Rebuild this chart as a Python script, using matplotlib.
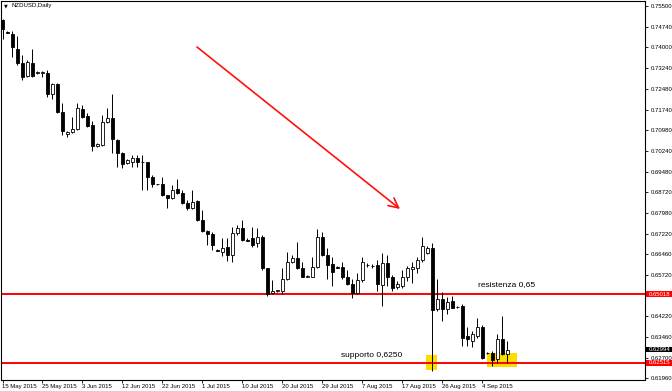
import matplotlib
matplotlib.use('Agg')
import matplotlib.pyplot as plt
from matplotlib.patches import Rectangle
import matplotlib.transforms as mtransforms

plt.rcParams['font.family'] = ['Liberation Sans', 'DejaVu Sans']

# ---------------- data (NZDUSD daily) ----------------
open_ = [0.74988, 0.74549, 0.74475, 0.73963, 0.73451, 0.72975, 0.73451, 0.73085, 0.73085, 0.73085,
         0.72317, 0.72682, 0.71658, 0.70853, 0.70926, 0.71036, 0.71768, 0.71512, 0.71182, 0.70414,
         0.70450, 0.71292, 0.71438, 0.70633, 0.70158, 0.69792, 0.69828, 0.69975, 0.69828, 0.69828,
         0.69280, 0.69023, 0.69023, 0.68621, 0.68511, 0.68841, 0.68694, 0.68328, 0.68145, 0.68401,
         0.67706, 0.67304, 0.67194, 0.66620, 0.66535, 0.66718, 0.66426, 0.67231, 0.67414, 0.66974,
         0.67048, 0.66865, 0.67084, 0.65950, 0.65072, 0.65140, 0.65145, 0.65584, 0.66169, 0.66316,
         0.65950, 0.65657, 0.65657, 0.65987, 0.67084, 0.66426, 0.66096, 0.65987, 0.65987, 0.65621,
         0.65401, 0.65072, 0.65547, 0.66060, 0.66023, 0.66060, 0.65364, 0.66133, 0.65657, 0.65291,
         0.65328, 0.65657, 0.65913, 0.65950, 0.66243, 0.66499, 0.66682, 0.64486, 0.64852, 0.64486,
         0.64779, 0.64560, 0.64596, 0.63498, 0.63315, 0.63498, 0.63828, 0.62876, 0.62876, 0.62657,
         0.63389, 0.62840]
high = [0.75024, 0.74585, 0.74585, 0.74402, 0.73744, 0.73561, 0.73963, 0.73158, 0.73158, 0.73195,
        0.72719, 0.72719, 0.71987, 0.70963, 0.71475, 0.71987, 0.71914, 0.71621, 0.71329, 0.70524,
        0.71548, 0.71804, 0.72317, 0.70650, 0.70194, 0.69938, 0.70085, 0.70085, 0.70085, 0.69840,
        0.69353, 0.69040, 0.69280, 0.68630, 0.68987, 0.69206, 0.68804, 0.68438, 0.68804, 0.68438,
        0.68072, 0.67340, 0.67267, 0.66645, 0.67048, 0.67048, 0.67450, 0.67523, 0.67706, 0.67048,
        0.67450, 0.67414, 0.67157, 0.65960, 0.65547, 0.65182, 0.65950, 0.66535, 0.66426, 0.66901,
        0.66169, 0.65694, 0.66352, 0.67377, 0.67267, 0.66682, 0.66352, 0.66023, 0.66169, 0.65877,
        0.65584, 0.65767, 0.66352, 0.66133, 0.66096, 0.66243, 0.66499, 0.66426, 0.65694, 0.65511,
        0.65877, 0.66023, 0.66169, 0.66352, 0.67084, 0.66755, 0.66865, 0.65584, 0.65108, 0.64925,
        0.64962, 0.64596, 0.64669, 0.63828, 0.63681, 0.64157, 0.63901, 0.62913, 0.62950, 0.63572,
        0.64230, 0.63315]
low = [0.74292, 0.74512, 0.73670, 0.73378, 0.72829, 0.72939, 0.72939, 0.73048, 0.72939, 0.72207,
       0.72134, 0.71621, 0.70816, 0.70743, 0.70890, 0.70999, 0.71438, 0.71109, 0.70231, 0.70377,
       0.70414, 0.71255, 0.70158, 0.69646, 0.69609, 0.69755, 0.69646, 0.69646, 0.68804, 0.68804,
       0.68914, 0.69000, 0.68584, 0.68145, 0.68475, 0.68680, 0.68292, 0.68072, 0.68109, 0.67670,
       0.67267, 0.66791, 0.66609, 0.66572, 0.66389, 0.66206, 0.66169, 0.67157, 0.66938, 0.66938,
       0.66718, 0.66718, 0.65877, 0.64962, 0.65035, 0.65108, 0.65035, 0.65547, 0.66133, 0.65930,
       0.65621, 0.65621, 0.65621, 0.65950, 0.66389, 0.65584, 0.65328, 0.65950, 0.65584, 0.65364,
       0.64889, 0.65035, 0.65474, 0.65987, 0.65950, 0.65145, 0.64596, 0.65328, 0.65145, 0.65218,
       0.65255, 0.65511, 0.65438, 0.65767, 0.66169, 0.66462, 0.62218, 0.64413, 0.64047, 0.64303,
       0.64510, 0.64523, 0.63132, 0.63132, 0.63096, 0.63425, 0.62657, 0.62840, 0.62401, 0.62510,
       0.62803, 0.62510]
close = [0.74658, 0.74540, 0.74000, 0.73451, 0.72939, 0.73487, 0.72975, 0.73095, 0.73100, 0.72317,
         0.72682, 0.71658, 0.70963, 0.70926, 0.71036, 0.71804, 0.71475, 0.71146, 0.70414, 0.70487,
         0.71292, 0.71438, 0.70670, 0.70158, 0.69755, 0.69902, 0.69975, 0.69828, 0.69815, 0.69280,
         0.69023, 0.69020, 0.68621, 0.68511, 0.68804, 0.68694, 0.68328, 0.68145, 0.68365, 0.67706,
         0.67304, 0.67194, 0.66791, 0.66600, 0.66682, 0.66426, 0.67231, 0.67414, 0.66974, 0.66965,
         0.66791, 0.67084, 0.65950, 0.65035, 0.65145, 0.65150, 0.65584, 0.66169, 0.66316, 0.65950,
         0.65657, 0.65665, 0.65987, 0.67084, 0.66426, 0.66060, 0.65804, 0.65980, 0.65621, 0.65401,
         0.65072, 0.65547, 0.66169, 0.66070, 0.66030, 0.65401, 0.66133, 0.65657, 0.65255, 0.65401,
         0.65657, 0.65950, 0.65987, 0.66243, 0.66755, 0.66682, 0.64450, 0.64852, 0.64486, 0.64742,
         0.64523, 0.64550, 0.63425, 0.63389, 0.63572, 0.63828, 0.62693, 0.62870, 0.62620, 0.63389,
         0.62840, 0.62994]

date_labels = ['15 May 2015', '25 May 2015', '3 Jun 2015', '12 Jun 2015', '22 Jun 2015',
               '1 Jul 2015', '10 Jul 2015', '20 Jul 2015', '29 Jul 2015', '7 Aug 2015',
               '17 Aug 2015', '26 Aug 2015', '4 Sep 2015']
date_label_bars = [0, 8, 16, 24, 32, 40, 48, 56, 64, 72, 80, 88, 96]
price_ticks = [0.75500, 0.74740, 0.74000, 0.73240, 0.72480, 0.71740, 0.70980, 0.70240, 0.69480,
               0.68720, 0.67980, 0.67220, 0.66460, 0.65720, 0.64220, 0.63460, 0.62700, 0.61960]
resistance = 0.65018
support = 0.62515
last_price = 0.62994
# ---------------------------------------------------------------------

W, H = 672, 391
fig = plt.figure(figsize=(W / 100, H / 100), dpi=100)
ax = fig.add_axes([1 / W, 11.5 / H, 644 / W, 378.5 / H])
ax.set_xlim(-0.3, 128.5)
ax.set_ylim(0.61905, 0.75694)

x = list(range(len(open_)))
ax.vlines(x, low, high, color='black', linewidth=0.7, zorder=3)
bottoms = [min(o, c) for o, c in zip(open_, close)]
heights = [abs(c - o) for o, c in zip(open_, close)]
colors = ['black' if c < o else 'white' for o, c in zip(open_, close)]
ax.bar(x, heights, bottom=bottoms, width=0.6, color=colors, edgecolor='black',
       linewidth=0.6, zorder=4)

# yellow highlight boxes
ax.add_patch(Rectangle((84.7, 0.62260), 2.2, 0.00537, facecolor='#ffdc00', edgecolor='none', zorder=1))
ax.add_patch(Rectangle((96.9, 0.62360), 6.0, 0.00500, facecolor='#ffdc00', edgecolor='none', zorder=1))

# support / resistance lines
ax.axhline(resistance, color='#ff0000', linewidth=1.4, zorder=2)
ax.axhline(support, color='#ff0000', linewidth=1.4, zorder=2)

ax.text(100.9, 0.65348, 'resistenza 0,65', fontsize=6, ha='center', va='center', zorder=5)
ax.text(73.8, 0.62797, 'supporto 0,6250', fontsize=6, ha='center', va='center', zorder=5)

# red trend arrow
ax.annotate('', xy=(79.5, 0.68116), xytext=(38.9, 0.74018),
            arrowprops=dict(arrowstyle='->,head_length=0.7,head_width=0.35', color='#ff1010',
                            lw=1.2, shrinkA=0, shrinkB=0), zorder=5)

# axes styling
for s in ax.spines.values():
    s.set_color('black')
    s.set_linewidth(0.8)
ax.yaxis.tick_right()
ax.set_yticks(price_ticks)
ax.set_yticklabels([f'{v:.5f}' for v in price_ticks])
ax.tick_params(axis='y', direction='out', length=2.5, width=0.6, pad=1.5, labelsize=4.3,
               colors='black')
ax.set_xticks(date_label_bars)
ax.set_xticklabels(date_labels, ha='left')
ax.tick_params(axis='x', direction='out', length=2, width=0.6, pad=1.5, labelsize=4.3)

# price boxes on the right scale
trans = mtransforms.blended_transform_factory(ax.transAxes, ax.transData)
box_h = 0.0021
for val, fc in [(resistance, '#ff0000'), (last_price, 'black'), (support, '#ff0000')]:
    ax.add_patch(Rectangle((1.0016, val - box_h / 2), 0.0404, box_h, transform=trans,
                           facecolor=fc, edgecolor='none', clip_on=False, zorder=6))
    ax.text(1.0065, val, f'{val:.5f}', transform=trans, fontsize=4.3, color='white',
            ha='left', va='center', zorder=7, clip_on=False)

# title
fig.text(4 / W, 1 - 6 / H, '\u25bc', fontsize=3.5, family=['DejaVu Sans'], va='center', ha='left')
fig.text(11.7 / W, 1 - 6 / H, 'NZDUSD,Daily', fontsize=4.3, va='center', ha='left')

fig.savefig('out.png', dpi=100)
